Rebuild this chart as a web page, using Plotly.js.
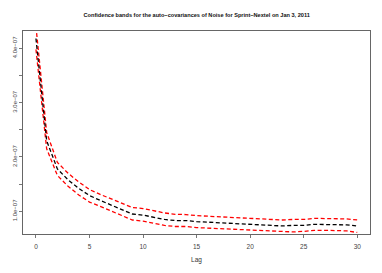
<!DOCTYPE html>
<html><head><meta charset="utf-8">
<script src="https://cdn.plot.ly/plotly-3.0.1.min.js"></script>
<style>html,body{margin:0;padding:0;background:#fff;}#chart{width:382px;height:273px;}</style>
</head><body><div id="chart"></div>
<script>
const lags = [0,1,2,3,4,5,6,7,8,9,10,11,12,13,14,15,16,17,18,19,20,21,22,23,24,25,26,27,28,29,30];
const estimate = [4.18,2.30,1.78,1.58,1.42,1.29,1.20,1.12,1.03,0.95,0.93,0.89,0.85,0.83,0.83,0.81,0.80,0.79,0.78,0.77,0.76,0.75,0.74,0.73,0.74,0.74,0.76,0.76,0.76,0.75,0.73].map(v=>v*1e-7);
const upper = [4.40,2.45,1.90,1.70,1.54,1.40,1.31,1.23,1.14,1.07,1.05,1.01,0.97,0.945,0.94,0.92,0.91,0.91,0.90,0.88,0.87,0.86,0.85,0.84,0.85,0.85,0.87,0.87,0.87,0.86,0.84].map(v=>v*1e-7);
const lower = [3.98,2.15,1.66,1.46,1.30,1.17,1.09,1.01,0.92,0.84,0.82,0.78,0.74,0.72,0.72,0.70,0.69,0.68,0.67,0.66,0.65,0.64,0.63,0.62,0.62,0.63,0.65,0.65,0.65,0.64,0.61].map(v=>v*1e-7);
const xTicks = [0,5,10,15,20,25,30];
const yTickVals = [1.0e-7,1.5e-7,2.0e-7,2.5e-7,3.0e-7,3.5e-7,4.0e-7];
const yTickText = ['1.0e\u221207','','2.0e\u221207','','3.0e\u221207','','4.0e\u221207'];
const titleText = 'Confidence bands for the auto\u2212covariances of Noise for Sprint\u2212Nextel on Jan 3, 2011';

const dashStyle = '4px,2.5px';
const traces = [
  {x: lags, y: upper, mode:'lines', line:{color:'#ff0000', width:1.3, dash:dashStyle}, hoverinfo:'skip'},
  {x: lags, y: lower, mode:'lines', line:{color:'#ff0000', width:1.3, dash:dashStyle}, hoverinfo:'skip'},
  {x: lags, y: estimate, mode:'lines', line:{color:'#000000', width:1.3, dash:dashStyle}, hoverinfo:'skip'}
];
const font = "'Liberation Sans', Arial, sans-serif";
const layout = {
  width:382, height:273,
  margin:{l:23, r:12, t:31, b:39, pad:0},
  paper_bgcolor:'#fff', plot_bgcolor:'#fff',
  showlegend:false,
  title:{text:titleText, x:0.515, xanchor:'center', y:0.945, yanchor:'middle', font:{family:font, size:5.6, color:'#111', weight:'bold'}},
  xaxis:{range:[-1.21,31.19], tickvals:xTicks, ticktext:xTicks.map(String), ticks:'outside', ticklen:3, tickcolor:'#555', tickwidth:0.8,
    ticklabelstandoff:3,
    showline:true, mirror:true, linecolor:'#666', linewidth:1, showgrid:false, zeroline:false,
    tickfont:{family:font, size:6.5, color:'#444'},
    title:{text:'Lag', font:{family:font, size:6.5, color:'#333'}, standoff:8}},
  yaxis:{range:[0.582e-7,4.319e-7], tickvals:yTickVals, ticktext:yTickText, ticks:'outside', ticklen:3, tickcolor:'#555', tickwidth:0.8,
    tickangle:-90, showline:true, mirror:true, linecolor:'#666', linewidth:1, showgrid:false, zeroline:false,
    tickfont:{family:font, size:6, color:'#444'}}
};
Plotly.newPlot('chart', traces, layout, {staticPlot:true, displayModeBar:false});
</script></body></html>
